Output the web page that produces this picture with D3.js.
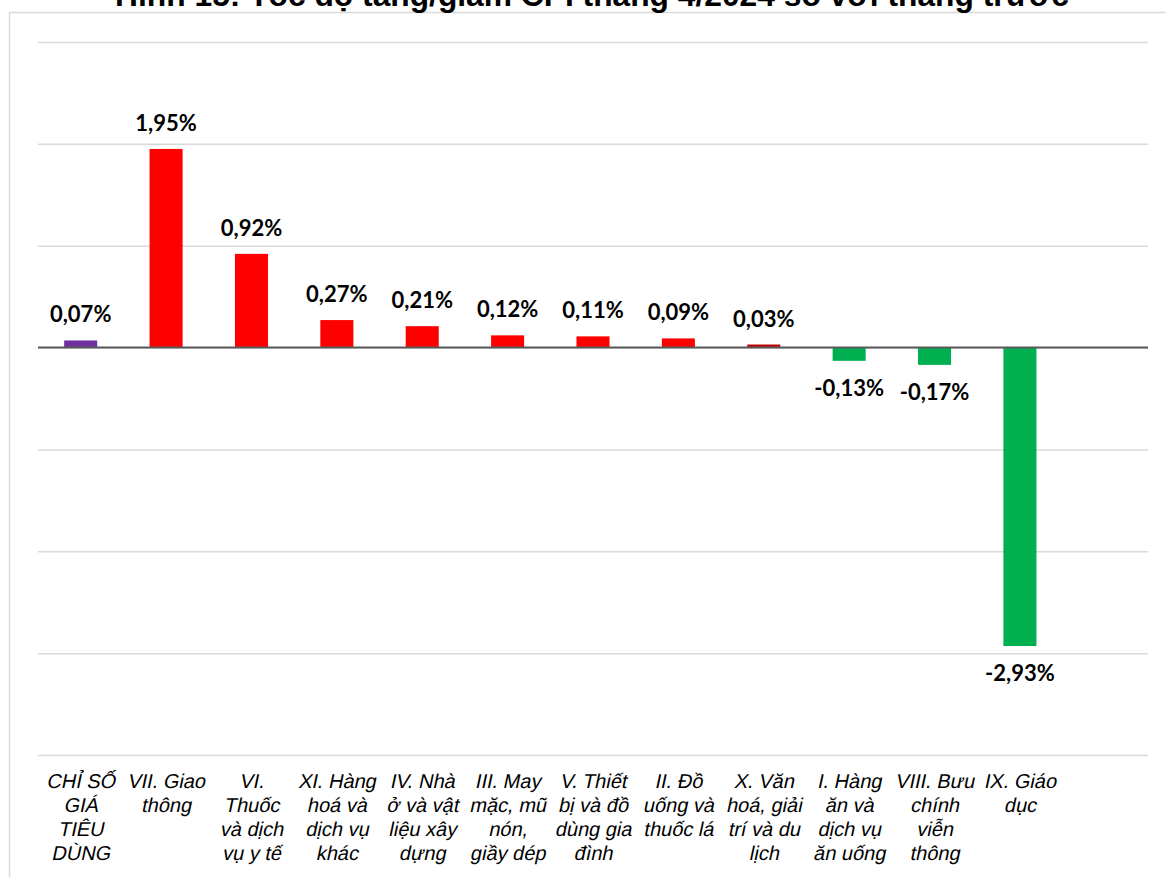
<html>
<head>
<meta charset="utf-8">
<style>
  body { margin: 0; background: #fff; }
</style>
</head>
<body>
<script src="https://d3js.org/d3.v7.min.js"></script>
<div id="chart"></div>
<script>
// chart data
var title = "Hình 15: Tốc độ tăng/giảm CPI tháng 4/2024 so với tháng trước";
var categories = [
  "CHỈ SỐ\nGIÁ\nTIÊU\nDÙNG",
  "VII. Giao\nthông",
  "VI.\nThuốc\nvà dịch\nvụ y tế",
  "XI. Hàng\nhoá và\ndịch vụ\nkhác",
  "IV. Nhà\nở và vật\nliệu xây\ndựng",
  "III. May\nmặc, mũ\nnón,\ngiầy dép",
  "V. Thiết\nbị và đồ\ndùng gia\nđình",
  "II. Đồ\nuống và\nthuốc lá",
  "X. Văn\nhoá, giải\ntrí và du\nlịch",
  "I. Hàng\năn và\ndịch vụ\năn uống",
  "VIII. Bưu\nchính\nviễn\nthông",
  "IX. Giáo\ndục"
];
var values = [0.07, 1.95, 0.92, 0.27, 0.21, 0.12, 0.11, 0.09, 0.03, -0.13, -0.17, -2.93];
var yTicks = [-4, -3, -2, -1, 0, 1, 2, 3];

var W = 1166, H = 877;
var plot = {left: 38, right: 1148, top: 42, bottom: 755};
var slots = 13; // the plot keeps one empty slot at the right

var svg = d3.select("#chart").append("svg")
  .attr("width", W).attr("height", H);

// outer chart frame
svg.append("rect")
  .attr("x", 9.5).attr("y", 12.5)
  .attr("width", W + 20).attr("height", H + 20)
  .attr("fill", "none").attr("stroke", "#d9d9d9").attr("stroke-width", 1.5);

// title (clipped at the top in the original)
var t = svg.append("text")
  .attr("x", 592).attr("y", 6)
  .attr("text-anchor", "middle")
  .style("font-family", "'Liberation Sans', Arial, sans-serif")
  .style("font-weight", "bold")
  .style("font-size", "100px")
  .text(title);
var len = t.node().getComputedTextLength();
t.style("font-size", (100 * 954 / len) + "px");

var plotW = plot.right - plot.left;
var x = d3.scaleBand()
  .domain(categories)
  .range([plot.left, plot.left + plotW * categories.length / slots])
  .paddingInner(0.613)
  .paddingOuter(0.3065);

var y = d3.scaleLinear()
  .domain([-4, 3])
  .range([plot.bottom, plot.top]);

// gridlines
var grid = svg.append("g")
  .attr("transform", "translate(" + plot.left + ",0)")
  .call(d3.axisLeft(y).tickValues(yTicks).tickSize(-plotW).tickFormat(""));
grid.select(".domain").remove();
grid.selectAll(".tick line")
  .attr("stroke", "#d9d9d9").attr("stroke-width", 1.5);

// bars
function barColor(v, i) {
  if (i === 0) return "#7030a0";
  if (v < 0) return "#00b050";
  if (v < 0.05) return "#c00000";
  return "#ff0000";
}
svg.selectAll(".bar")
  .data(values)
  .enter().append("rect")
    .attr("class", "bar")
    .attr("x", function(d, i) { return x(categories[i]); })
    .attr("y", function(d) { return y(Math.max(0, d)); })
    .attr("width", x.bandwidth())
    .attr("height", function(d) { return Math.abs(y(d) - y(0)); })
    .attr("fill", barColor);

// zero line
svg.append("line")
  .attr("x1", plot.left).attr("x2", plot.right)
  .attr("y1", y(0)).attr("y2", y(0))
  .attr("stroke", "#595959").attr("stroke-width", 2);

// data labels
svg.selectAll(".lbl")
  .data(values)
  .enter().append("text")
    .attr("class", "lbl")
    .attr("x", function(d, i) { return x(categories[i]) + x.bandwidth() / 2; })
    .attr("y", function(d) { return d >= 0 ? y(d) - 18 : y(d) + 35; })
    .attr("text-anchor", "middle")
    .style("font-family", "Lato, 'Open Sans', sans-serif")
    .style("font-weight", "bold")
    .style("font-size", "22px")
    .attr("fill", "#000")
    .text(function(d) { return d.toFixed(2).replace(".", ",") + "%"; });

// category axis: one slanted text per line (italic look)
var xAxis = svg.append("g")
  .attr("transform", "translate(0," + plot.bottom + ")")
  .call(d3.axisBottom(x).tickSize(0).tickFormat(""));
xAxis.select(".domain").remove();
xAxis.selectAll(".tick").each(function(d) {
  var tick = d3.select(this);
  d.split("\n").forEach(function(line, k) {
    tick.append("text")
      .attr("transform", "translate(0," + (33 + k * 24) + ") skewX(-12)")
      .attr("text-anchor", "middle")
      .attr("fill", "#000")
      .style("font-family", "'Liberation Sans', Arial, sans-serif")
      .style("font-size", "20px")
      .text(line);
  });
});
</script>
</body>
</html>
